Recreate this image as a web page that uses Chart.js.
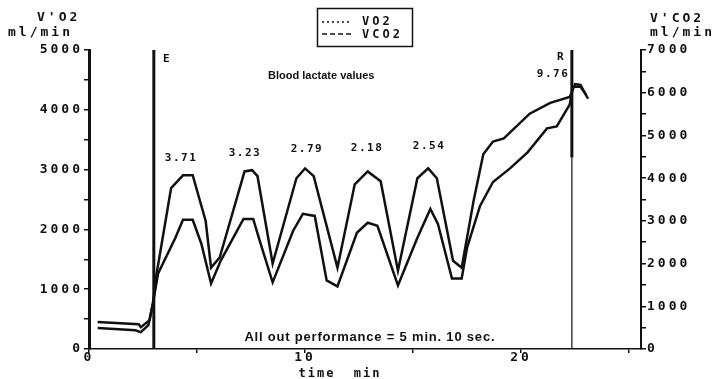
<!DOCTYPE html>
<html>
<head>
<meta charset="utf-8">
<script src="https://cdn.jsdelivr.net/npm/chart.js@4.4.1/dist/chart.umd.min.js"></script>
<style>
html,body{margin:0;padding:0;background:#fff}
#wrap{width:722px;height:379px}
</style>
</head>
<body>
<div id="wrap"><canvas id="c" width="722" height="379"></canvas></div>
<script>
// VO2 (left axis, ml/min) - upper curve
const vo2Time   = [0.4,2.3,2.4,2.8,2.96,3.1,3.8,4.35,4.8,5.4,5.65,6.05,7.2,7.55,7.8,8.5,9.6,10.0,10.4,11.5,12.3,12.9,13.5,14.3,15.2,15.7,16.1,16.85,17.25,17.8,18.25,18.7,19.2,20.4,21.35,22.25,22.5,22.75,23.1];
const vo2Values = [450,415,365,480,765,1195,2690,2905,2905,2140,1360,1530,2970,2990,2890,1430,2855,3020,2890,1360,2755,2970,2805,1310,2855,3020,2855,1475,1360,2475,3255,3470,3520,3935,4115,4215,4430,4415,4185];
// VCO2 (right axis, ml/min) - lower curve
const vco2Time   = [0.4,2.15,2.4,2.75,2.96,3.2,4.0,4.35,4.8,5.2,5.65,6.1,7.15,7.6,7.9,8.5,9.45,9.9,10.45,11.0,11.5,12.4,12.9,13.35,14.3,15.2,15.8,16.15,16.8,17.25,17.5,18.1,18.7,19.5,20.3,21.2,21.65,22.25,22.4,22.75,23.0];
const vco2Values = [490,440,395,560,1070,1770,2605,3025,3025,2465,1535,2070,3045,3045,2535,1560,2770,3165,3115,1605,1465,2720,2955,2885,1490,2605,3280,2930,1650,1650,2375,3350,3910,4235,4605,5165,5210,5720,6140,6140,5955];

// markers: start of exercise (E) and end (R)
const eTime = 3.0;
const rTime = 22.35;
const rThickFrom = 3200;

// blood lactate labels
const lactateLabels = ['3.71','3.23','2.79','2.18','2.54'];
const lactateTimes  = [4.26,7.22,10.09,12.87,15.74];
const lactateLevels = [3195,3280,3345,3360,3395];

const xMax = 25.55, yLeftMax = 5000, yRightMax = 7000;

const pts = (xs, ys) => xs.map((t,i)=>({x:t, y:ys[i]}));
const ink = '#111';
const mono = 'DejaVu Sans Mono';

const notes = {
  id:'notes',
  beforeDraw(c){ c.ctx.letterSpacing = '3px'; },
  afterDraw(c){
    const ctx=c.ctx, x=c.scales.x, y=c.scales.y;
    ctx.save();
    ctx.fillStyle=ink; ctx.strokeStyle=ink; ctx.textBaseline='middle';
    // axis units
    ctx.letterSpacing='3px';
    ctx.font=`bold 13px "${mono}"`;
    ctx.textAlign='left';
    ctx.fillText("V'O2", 37, 18);
    ctx.fillText("ml/min", 8, 33);
    ctx.fillText("V'CO2", 650, 19);
    ctx.fillText("ml/min", 650, 33);
    ctx.textAlign='center';
    ctx.letterSpacing='2px';
    ctx.font=`bold 12px "${mono}"`;
    ctx.fillText("time  min", 340, 374);

    // legend
    ctx.lineWidth=1.5;
    ctx.strokeRect(317.5, 8.5, 95, 38);
    ctx.setLineDash([2,3]);
    ctx.beginPath(); ctx.moveTo(322,22); ctx.lineTo(352,22); ctx.stroke();
    ctx.setLineDash([5,3]);
    ctx.beginPath(); ctx.moveTo(322,34); ctx.lineTo(352,34); ctx.stroke();
    ctx.setLineDash([]);
    ctx.textAlign='left';
    ctx.letterSpacing='3px';
    ctx.font=`bold 12px "${mono}"`;
    ctx.fillText('VO2', 362, 22);
    ctx.fillText('VCO2', 362, 35);

    // lactate values
    ctx.textAlign='center';
    ctx.letterSpacing='1.5px';
    ctx.font=`bold 11px "${mono}"`;
    lactateLabels.forEach((s,i)=>ctx.fillText(s, x.getPixelForValue(lactateTimes[i]), y.getPixelForValue(lactateLevels[i])));
    ctx.fillText('9.76', x.getPixelForValue(21.48), y.getPixelForValue(4598));
    ctx.fillText('E', x.getPixelForValue(3.61), y.getPixelForValue(4849));
    ctx.fillText('R', x.getPixelForValue(21.85), y.getPixelForValue(4882));

    ctx.letterSpacing='0px';
    ctx.font='bold 11px "Liberation Sans"';
    ctx.fillText('Blood lactate values', x.getPixelForValue(10.75), y.getPixelForValue(4565));
    ctx.letterSpacing='0.8px';
    ctx.font='bold 13px "Liberation Sans"';
    ctx.fillText('All out performance = 5 min. 10 sec.', x.getPixelForValue(13.0), y.getPixelForValue(200));
    ctx.restore();
  }
};

const tickFont = {family:mono, size:13, weight:'bold'};

new Chart(document.getElementById('c'), {
  type:'line',
  data:{datasets:[
    {label:'VO2', data:pts(vo2Time,vo2Values), yAxisID:'y', borderColor:ink, borderWidth:2.5, pointRadius:0, tension:0},
    {label:'VCO2', data:pts(vco2Time,vco2Values), yAxisID:'y1', borderColor:ink, borderWidth:2.5, pointRadius:0, tension:0},
    {label:'E', data:pts([eTime,eTime],[0,yLeftMax]), yAxisID:'y', borderColor:ink, borderWidth:3, pointRadius:0},
    {label:'R', data:pts([rTime,rTime],[rThickFrom,yLeftMax]), yAxisID:'y', borderColor:ink, borderWidth:3, pointRadius:0},
    {label:'R2', data:pts([rTime,rTime],[0,rThickFrom]), yAxisID:'y', borderColor:ink, borderWidth:1.2, pointRadius:0}
  ]},
  options:{
    responsive:false, animation:false, devicePixelRatio:1,
    layout:{padding:{top:50,left:0,right:0,bottom:0}},
    plugins:{legend:{display:false}, tooltip:{enabled:false}},
    scales:{
      x:{type:'linear', min:0, max:xMax,
        afterFit(s){ s.height=30; },
        border:{display:true, color:ink, width:1.5},
        grid:{drawOnChartArea:false, drawTicks:true, tickLength:4, color:ink, lineWidth:1.5},
        ticks:{stepSize:5, includeBounds:false, autoSkip:false, maxRotation:0, padding:-3, color:ink, font:tickFont,
          callback:v=> v%10===0 ? String(v) : ''}},
      y:{type:'linear', position:'left', min:0, max:yLeftMax,
        afterFit(s){ s.width=89; },
        border:{display:true, color:ink, width:3},
        grid:{drawOnChartArea:false, drawTicks:true, tickLength:5, color:ink, lineWidth:1.5},
        ticks:{stepSize:500, autoSkip:false, padding:1, color:ink, font:tickFont,
          callback:v=> v%1000===0 ? String(v) : ''}},
      y1:{type:'linear', position:'right', min:0, max:yRightMax,
        afterFit(s){ s.width=81; },
        border:{display:true, color:ink, width:2},
        grid:{drawOnChartArea:false, drawTicks:true, tickLength:5, color:ink, lineWidth:1.5},
        ticks:{stepSize:500, autoSkip:false, padding:1, color:ink, font:tickFont,
          callback:v=> v%1000===0 ? String(v) : ''}}
    }
  },
  plugins:[notes]
});
</script>
</body>
</html>
